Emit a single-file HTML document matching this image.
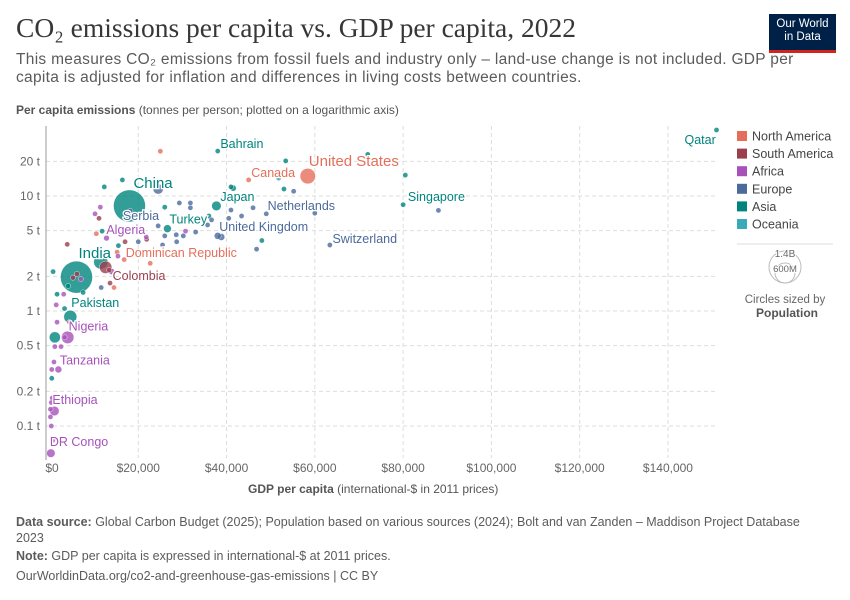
<!DOCTYPE html>
<html><head><meta charset="utf-8">
<style>
body{margin:0;background:#fff;font-family:"Liberation Sans",sans-serif;}
#wrap{position:relative;width:850px;height:600px;overflow:hidden;}
.t{position:absolute;white-space:nowrap;}
</style></head>
<body>
<div id="wrap">
<div class="t" style="left:16px;top:12px;font-family:'Liberation Serif',serif;font-size:27.5px;color:#373737;">CO₂ emissions per capita vs. GDP per capita, 2022</div>
<div class="t" style="left:16px;top:51px;font-size:15.5px;letter-spacing:0.3px;line-height:18px;color:#5b5b5b;">This measures CO₂ emissions from fossil fuels and industry only – land-use change is not included. GDP per<br>capita is adjusted for inflation and differences in living costs between countries.</div>
<div style="position:absolute;left:769px;top:14px;width:67px;height:39px;background:#002147;border-bottom:3px solid #ce261e;box-sizing:border-box;color:#fff;font-size:11.5px;line-height:13px;text-align:center;padding-top:4px;">Our World<br>in Data</div>
<div class="t" style="left:16px;top:103px;font-size:12px;color:#555;"><b>Per capita emissions</b> (tonnes per person; plotted on a logarithmic axis)</div>
<div class="t" style="left:248px;top:482px;font-size:12px;color:#555;"><b>GDP per capita</b> (international-$ in 2011 prices)</div>
<div class="t" style="left:16px;top:514px;font-size:12.5px;line-height:16px;color:#5b5b5b;"><b>Data source:</b> Global Carbon Budget (2025); Population based on various sources (2024); Bolt and van Zanden – Maddison Project Database<br>2023</div>
<div class="t" style="left:16px;top:549px;font-size:12.5px;color:#5b5b5b;"><b>Note:</b> GDP per capita is expressed in international-$ at 2011 prices.</div>
<div class="t" style="left:16px;top:569px;font-size:12.5px;color:#5b5b5b;">OurWorldinData.org/co2-and-greenhouse-gas-emissions | CC BY</div>
<svg id="svg" width="850" height="600" style="position:absolute;left:0;top:0;"></svg>
</div>
<script>
const regions=["North America","South America","Africa","Europe","Asia","Oceania"];
const colors=["#e56e5a","#9a3f4e","#a652ba","#4c6a9c","#00847e","#38aaba"];
const xTicks=[0,20,40,60,80,100,120,140];
const xTickLabels=["$0","$20,000","$40,000","$60,000","$80,000","$100,000","$120,000","$140,000"];
const yTicks=[0.1,0.2,0.5,1,2,5,10,20];
const yTickLabels=["0.1 t","0.2 t","0.5 t","1 t","2 t","5 t","10 t","20 t"];
// gdp (thousand $), co2 (t), population (millions), region index, label
const gdp=[151,38,58.4,45,18,37.7,46,18.2,80.5,26.6,38,63.4,12.8,15.2,13.6,6,4.6,4,1.9,1,0.2,11.5,12.6,24.5,41,41.5,51.8,
25,53.4,53,55.2,16.4,12.3,10.2,11.4,11.1,26,29.3,31.8,31.8,41,43.4,49,60,36,36.6,40.5,35.7,33,30.2,28.6,30.7,26,24.5,20,21.9,21.8,25.5,28.7,38.8,48,46.8,17,15.5,11.8,10.5,3.9,15.4,16.8,22.7,14,13.4,14.5,11.6,7,6.1,5.2,4.1,7.5,0.7,1.6,3.1,1.4,3.3,4.4,1.6,1.1,3.3,2.5,1.1,0.9,0.4,0.4,0.5,0.3,0.3,0.6,0.1,0.1,88,72,80,77];
const co2=[37.5,24.6,14.9,13.8,8.2,8.2,7.9,7.4,15.2,5.2,4.5,3.75,4.3,3.25,1.75,1.97,0.89,0.59,0.31,0.135,0.058,2.67,2.4,11.5,12,11.7,14.3,
24.5,20.2,11.5,11,13.8,12,7,8,6.4,8,8.7,8.7,7.9,7.55,6.7,7,7.1,6.7,6.2,6.4,5.6,4.86,4.5,4.6,4.95,4.5,5.5,4,4.2,4.4,3.75,4,4.4,4.1,3.45,4,3.7,4.95,4.7,3.8,3,2.8,2.6,2.2,2.27,1.6,1.6,1.9,2.1,1.95,1.65,1.45,2.2,1.4,1.4,1.13,1.05,0.8,0.8,0.59,0.59,0.49,0.49,0.36,0.31,0.26,0.175,0.16,0.1,0.075,0.14,0.12,7.5,23,8.4,20];
const pop=[3,1.5,333,38,1412,125,17.6,7,5.6,85,67,8.7,45,11,34,1417,235,218,65,123,100,275,215,144,36,52,26,
1.5,4,10,5,4,6,10,2,5,20,4,3,10,2,5,3,1,10,3,5,30,38,9,6,2,5,2,4,5,3,4,5,68,3,2,7,10,5,3,6,5,3,2,52,20,5,3,4,3,4,15,2,5,4,5,3,5,5,3,170,4,5,4,4,20,30,5,3,3,10,4,5,5,3,2,4];
const reg=[4,4,0,0,4,4,3,3,4,4,3,3,2,0,1,4,4,2,2,2,2,4,1,3,4,4,5,
0,4,4,3,4,4,2,2,1,4,3,3,3,3,3,3,3,4,3,3,3,3,3,3,2,3,3,3,1,2,3,3,3,4,3,1,4,4,0,1,2,0,0,2,1,0,3,2,1,1,4,4,4,4,2,2,4,0,2,4,2,2,2,2,2,4,2,2,2,2,2,2,3,4,4,4];
const labels=["Qatar","Bahrain","United States","Canada","China","Japan","Netherlands","Serbia","Singapore","Turkey","United Kingdom","Switzerland","Algeria","Dominican Republic","Colombia","India","Pakistan","Nigeria","Tanzania","Ethiopia","DR Congo"];
const labelDx=[-32,0,-3,0,0,0,12,-10,0,-2,-2,0,-3,6,0,-2,-3,-3,-2,-6,-5];
const labelDy=[14,-3,-10,-3,-18,-5,2,9,26,-5,-5,-2,-4,5,-3,-19,-10,-7,-5,-7,-7];
const bigLabels=["China","India","United States"];

const svg=document.getElementById('svg');const NS="http://www.w3.org/2000/svg";
const X=v=>50+v*4.414, Y=v=>311-115*Math.log10(v);
function mk(t,a,p){const e=document.createElementNS(NS,t);for(const k in a)e.setAttribute(k,a[k]);(p||svg).appendChild(e);return e;}
yTicks.forEach((v,i)=>{
 const g=mk('line',{x1:46,x2:718,y1:Y(v),y2:Y(v),stroke:'#ddd','stroke-dasharray':'4,3'});
 
 
 const t=mk('text',{x:40,y:Y(v)+4,'text-anchor':'end','font-size':12,fill:'#666','font-family':'Liberation Sans'});
 t.textContent=yTickLabels[i];
 
 
});
xTicks.forEach((v,i)=>{
 if(i>0){const g=mk('line',{x1:X(v),x2:X(v),y1:126,y2:458,stroke:'#ddd','stroke-dasharray':'4,3'});
 
 }
 const t=mk('text',{x:X(v)+(i==0?2:0),y:472,'text-anchor':'middle','font-size':12,fill:'#666','font-family':'Liberation Sans'});
 t.textContent=xTickLabels[i];
 
 
});
const ax=mk('line',{x1:46,x2:46,y1:126,y2:460,stroke:'#999'});


const order=gdp.map((_,i)=>i).sort((a,b)=>pop[b]-pop[a]);
order.forEach(i=>{
 const r=Math.max(2.6,16*Math.sqrt(pop[i]/1412));
 const c=mk('circle',{cx:X(gdp[i]),cy:Y(co2[i]),r:r,fill:colors[reg[i]],'fill-opacity':0.8,stroke:'#fff','stroke-width':0.4});
 
 
});
labels.forEach((n,i)=>{
 const r=Math.max(2.6,16*Math.sqrt(pop[i]/1412));
 const big=bigLabels.includes(n);
 const t=mk('text',{x:X(gdp[i])+labelDx[i]+(i==0?0:Math.min(r,4)),y:Y(co2[i])+labelDy[i],'font-size':big?15:12.5,fill:colors[reg[i]],'font-family':'Liberation Sans',stroke:'#fff','stroke-width':2.5,'paint-order':'stroke'});
 t.textContent=n;
 
 
});
regions.forEach((n,i)=>{
 const y=131+i*17.6;
 const s=mk('rect',{x:737,y:y,width:10,height:10,fill:colors[i]});
 
 
 const t=mk('text',{x:752,y:y+9.5,'font-size':12.5,fill:'#444','font-family':'Liberation Sans'});
 t.textContent=n;
 
 
});
const sep=mk('line',{x1:737,x2:833,y1:244,y2:244,stroke:'#ddd'});


const c1=mk('circle',{cx:785,cy:267,r:16,fill:'none',stroke:'#bbb'});


const c2=mk('circle',{cx:785,cy:273,r:10,fill:'none',stroke:'#bbb'});


[["1.4B",257,10],["600M",272,9.5],["Circles sized by",303,11.5]].forEach(a=>{
 const t=mk('text',{x:785,y:a[1],'text-anchor':'middle','font-size':a[2],fill:'#666','font-family':'Liberation Sans',stroke:'#fff','stroke-width':2,'paint-order':'stroke'});
 t.textContent=a[0];
 
 
});
const pt=mk('text',{x:787,y:317,'text-anchor':'middle','font-size':12,'font-weight':'bold',fill:'#555','font-family':'Liberation Sans'});
pt.textContent="Population";


</script>
</body></html>
